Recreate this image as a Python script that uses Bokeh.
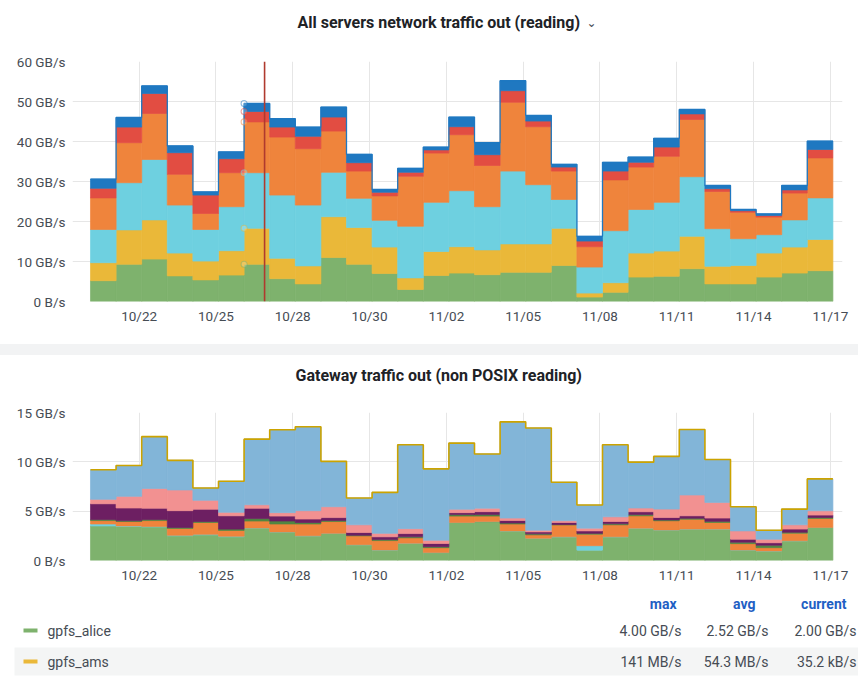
import numpy as np
from bokeh.plotting import figure
from bokeh.models import Range1d, FixedTicker, Span, ColumnDataSource, Spacer
from bokeh.layouts import column
from bokeh.embed import file_html
from bokeh.resources import INLINE
from bokeh.core.properties import value

# ---------------- data ----------------
day_index = list(range(29))
tick_positions = [1.9, 4.9, 7.9, 10.9, 13.9, 16.9, 19.9, 22.9, 25.9, 28.9]
tick_labels = ["10/22", "10/25", "10/28", "10/30", "11/02", "11/05", "11/08", "11/11", "11/14", "11/17"]

# top panel: All servers network traffic out (reading), GB/s per day
top_title = "All servers network traffic out (reading)"
top_green = [5.2, 9.3, 10.6, 6.4, 5.4, 6.6, 9.3, 5.7, 4.4, 11.0, 9.3, 7.0, 3.0, 6.5, 7.1, 6.7, 7.3, 7.3, 9.0, 1.1, 2.3, 6.1, 6.3, 8.2, 4.4, 4.4, 6.1, 7.1, 7.7]
top_yellow = [4.5, 8.6, 9.8, 5.7, 4.7, 6.1, 9.0, 5.1, 4.5, 10.2, 9.2, 6.6, 2.9, 6.0, 6.6, 6.2, 7.1, 7.1, 9.3, 1.0, 2.4, 6.0, 6.3, 8.1, 4.4, 4.6, 6.0, 6.5, 7.8]
top_cyan = [8.3, 11.8, 15.1, 12.0, 7.9, 11.0, 13.9, 15.8, 15.2, 11.1, 7.3, 6.7, 12.9, 12.3, 14.0, 10.8, 18.2, 14.8, 7.2, 6.5, 13.0, 10.9, 12.2, 14.9, 9.4, 6.7, 4.6, 6.8, 10.4]
top_orange = [7.9, 10.0, 11.5, 7.7, 4.0, 8.5, 12.7, 14.5, 14.1, 10.3, 6.8, 6.1, 12.5, 12.3, 14.0, 10.3, 17.2, 14.5, 7.1, 5.1, 12.7, 10.6, 11.5, 14.3, 9.3, 6.6, 4.4, 6.7, 10.0]
top_red = [2.4, 3.9, 5.0, 5.4, 4.6, 3.5, 2.6, 2.5, 3.1, 3.5, 2.1, 0.9, 1.0, 0.8, 2.0, 2.7, 2.9, 1.4, 1.0, 1.4, 2.2, 1.2, 2.3, 1.4, 0.7, 0.4, 0.4, 0.8, 2.1]
top_blue = [2.3, 2.4, 1.9, 1.7, 0.8, 1.7, 2.0, 2.1, 2.3, 2.5, 2.1, 0.7, 1.0, 0.7, 2.4, 3.0, 2.5, 1.4, 0.7, 1.2, 2.2, 1.3, 2.2, 1.1, 0.8, 0.3, 0.4, 1.1, 2.1]
top_yticks = [0, 10, 20, 30, 40, 50, 60]
top_ylabels = ["0 B/s", "10 GB/s", "20 GB/s", "30 GB/s", "40 GB/s", "50 GB/s", "60 GB/s"]
annotation_day = 6.8
hover_day = 6

# bottom panel: Gateway traffic out (non POSIX reading), GB/s per day
gw_title = "Gateway traffic out (non POSIX reading)"
gw_alice = [3.5, 3.45, 3.4, 2.5, 2.6, 2.4, 3.3, 2.9, 2.5, 2.75, 1.6, 1.07, 1.75, 0.8, 3.85, 3.95, 3.0, 2.25, 2.4, 1.05, 2.4, 3.28, 3.1, 3.18, 3.18, 1.07, 0.97, 2.0, 3.35]
gw_cyan = [0.2, 0.05, 0.05, 0.05, 0.05, 0.05, 0.0, 0.0, 0.0, 0.0, 0.0, 0.0, 0.0, 0.0, 0.0, 0.0, 0.0, 0.0, 0.0, 0.45, 0.0, 0.0, 0.0, 0.0, 0.0, 0.0, 0.0, 0.0, 0.0]
gw_orange = [0.35, 0.45, 0.6, 0.7, 1.2, 0.6, 0.7, 0.8, 1.2, 1.2, 0.9, 0.95, 0.55, 0.5, 0.65, 0.55, 0.7, 0.35, 1.2, 1.17, 1.22, 1.25, 0.93, 1.0, 0.67, 0.64, 0.33, 0.77, 0.91]
gw_dkgreen = [0.1, 0.08, 0.1, 0.1, 0.1, 0.13, 0.25, 0.3, 0.15, 0.1, 0.06, 0.1, 0.1, 0.1, 0.15, 0.15, 0.1, 0.1, 0.05, 0.08, 0.1, 0.12, 0.08, 0.1, 0.12, 0.15, 0.25, 0.1, 0.1]
gw_purple = [1.6, 1.29, 1.15, 1.7, 1.25, 1.35, 1.05, 0.5, 0.35, 0.3, 0.28, 0.28, 0.33, 0.32, 0.2, 0.3, 0.25, 0.2, 0.2, 0.25, 0.24, 0.29, 0.25, 0.25, 0.33, 0.3, 0.25, 0.31, 0.24]
gw_pink = [0.45, 1.18, 2.0, 2.1, 0.9, 0.35, 0.35, 0.35, 0.85, 1.1, 0.78, 0.35, 0.5, 0.33, 0.35, 0.35, 0.25, 0.17, 0.18, 0.28, 0.47, 0.38, 0.85, 2.11, 1.59, 0.84, 0.36, 0.44, 0.44]
gw_lightblue = [3.0, 3.13, 5.25, 3.0, 1.25, 3.15, 6.65, 8.4, 8.5, 4.6, 2.71, 4.15, 8.5, 7.24, 6.7, 5.5, 9.75, 10.36, 3.9, 2.34, 7.3, 4.65, 5.34, 6.63, 4.35, 2.45, 0.91, 1.59, 3.23]
gw_yticks = [0, 5, 10, 15]
gw_ylabels = ["0 B/s", "5 GB/s", "10 GB/s", "15 GB/s"]

legend_headers = ["max", "avg", "current"]
legend_names = ["gpfs_alice", "gpfs_ams"]
legend_colors = ["#7EB26D", "#EAB839"]
legend_max = ["4.00 GB/s", "141 MB/s"]
legend_avg = ["2.52 GB/s", "54.3 MB/s"]
legend_current = ["2.00 GB/s", "35.2 kB/s"]

TOP_COLORS = ["#7EB26D", "#EAB839", "#6ED0E0", "#EF843C", "#E24D42", "#1F78C1"]
GW_COLORS = ["#7EB26D", "#6ED0E0", "#EF843C", "#508642", "#6D1F62", "#F29191", "#82B5D8"]
FONT = "Roboto"
TEXT = "#464c54"
W = 858


def blank(height):
    f = figure(width=W, height=height, x_range=Range1d(0, W), y_range=Range1d(height, 0),
               output_backend="svg", toolbar_location=None, x_axis_type=None, y_axis_type=None,
               min_border=0, frame_align=False)
    f.outline_line_color = None
    f.grid.visible = False
    f.border_fill_color = "white"
    return f


def header(text, height, x_left, y_mid, chevron=False):
    h = blank(height)
    h.text(x=[x_left], y=[y_mid], text=[text], text_font=value(FONT), text_font_size="16px",
           text_font_style="bold", text_color="#202226", text_baseline="middle")
    if chevron:
        h.text(x=[586], y=[y_mid], text=["⌄"], text_font=value("DejaVu Sans"), text_font_size="12px",
               text_color="#464c54", text_baseline="middle")
    return h


def make_panel(height, mb_top, mb_bottom, y_end, yticks, ylabels):
    p = figure(width=W, height=height, x_range=Range1d(-0.703, 29.375), y_range=Range1d(0, y_end),
               output_backend="svg", toolbar_location=None, frame_align=False,
               min_border_left=72, min_border_right=16, min_border_top=mb_top, min_border_bottom=mb_bottom)
    p.outline_line_color = None
    p.background_fill_color = "white"
    p.border_fill_color = "white"
    p.xaxis.ticker = FixedTicker(ticks=tick_positions)
    p.xaxis.major_label_overrides = {t: l for t, l in zip(tick_positions, tick_labels)}
    p.yaxis.ticker = FixedTicker(ticks=yticks)
    p.yaxis.major_label_overrides = {t: l for t, l in zip(yticks, ylabels)}
    for ax in (p.xaxis, p.yaxis):
        ax.axis_line_color = None
        ax.major_tick_line_color = None
        ax.minor_tick_line_color = None
        ax.major_tick_out = 0
        ax.major_label_text_font = FONT
        ax.major_label_text_font_size = "13.5px"
        ax.major_label_text_color = TEXT
    p.xaxis.major_label_standoff = 6
    p.yaxis.major_label_standoff = 7
    p.grid.grid_line_color = "#e6e6e6"
    p.grid.grid_line_width = 1
    return p


# ---------------- top panel ----------------
h1 = header(top_title, 40, 297, 22, chevron=True)
p1 = make_panel(304, 21, 43, 60, top_yticks, top_ylabels)
top_series = [top_green, top_yellow, top_cyan, top_orange, top_red, top_blue]
top_keys = ["s1", "s2", "s3", "s4", "s5", "s6"]
src1 = ColumnDataSource(dict(x=[d + 0.5 for d in day_index], **dict(zip(top_keys, top_series))))
p1.vbar_stack(top_keys, x="x", width=1.0, color=TOP_COLORS, line_width=0.7, source=src1)
tot1 = np.sum(np.array(top_series), axis=0)
edges = day_index + [len(day_index)]
p1.step(edges, list(tot1) + [tot1[-1]], mode="after", line_color="#1F78C1", line_width=1.3)
cum1 = np.cumsum(np.array(top_series)[:, hover_day])
p1.scatter([hover_day] * len(cum1), list(cum1), size=6, fill_color="white", fill_alpha=0.2,
           line_color=TOP_COLORS, line_alpha=0.5, line_width=1.1)
p1.add_layout(Span(location=annotation_day, dimension="height", line_color="#B03A2E", line_width=1.6))

# ---------------- bottom panel ----------------
h2 = header(gw_title, 40, 295, 20)
p2 = make_panel(195, 17, 30, 15, gw_yticks, gw_ylabels)
gw_series = [gw_alice, gw_cyan, gw_orange, gw_dkgreen, gw_purple, gw_pink, gw_lightblue]
gw_keys = ["g1", "g2", "g3", "g4", "g5", "g6", "g7"]
src2 = ColumnDataSource(dict(x=[d + 0.5 for d in day_index], **dict(zip(gw_keys, gw_series))))
p2.vbar_stack(gw_keys, x="x", width=1.0, color=GW_COLORS, line_width=0.7, source=src2)
tot2 = np.sum(np.array(gw_series), axis=0)
p2.step(edges, list(tot2) + [tot2[-1]], mode="after", line_color="#CCA300", line_width=1.6)

# ---------------- legend ----------------
LH = 94
p3 = blank(LH)
p3.quad(left=[14], right=[W], top=[57], bottom=[85], fill_color="#f4f5f5", line_color=None)
p3.text(x=[676, 755, 846], y=[13] * 3, text=legend_headers, text_font=value(FONT),
        text_font_size="14px", text_font_style="bold", text_color="#1F60C4",
        text_align="right", text_baseline="middle")
row_y = [40, 71]
p3.segment(x0=[23] * 2, y0=row_y, x1=[37] * 2, y1=row_y, line_color=legend_colors, line_width=4)
p3.text(x=[47] * 2, y=row_y, text=legend_names, text_font=value(FONT), text_font_size="14px",
        text_color=TEXT, text_baseline="middle")
for xr, col in zip([681, 768, 856], [legend_max, legend_avg, legend_current]):
    p3.text(x=[xr] * 2, y=row_y, text=col, text_font=value(FONT), text_font_size="14px",
            text_color=TEXT, text_align="right", text_baseline="middle")

gap = Spacer(width=W, height=11, styles={"background-color": "#f2f3f4"})
layout = column(h1, p1, gap, h2, p2, p3, spacing=0)
open("out.html", "w").write(file_html(layout, INLINE))
